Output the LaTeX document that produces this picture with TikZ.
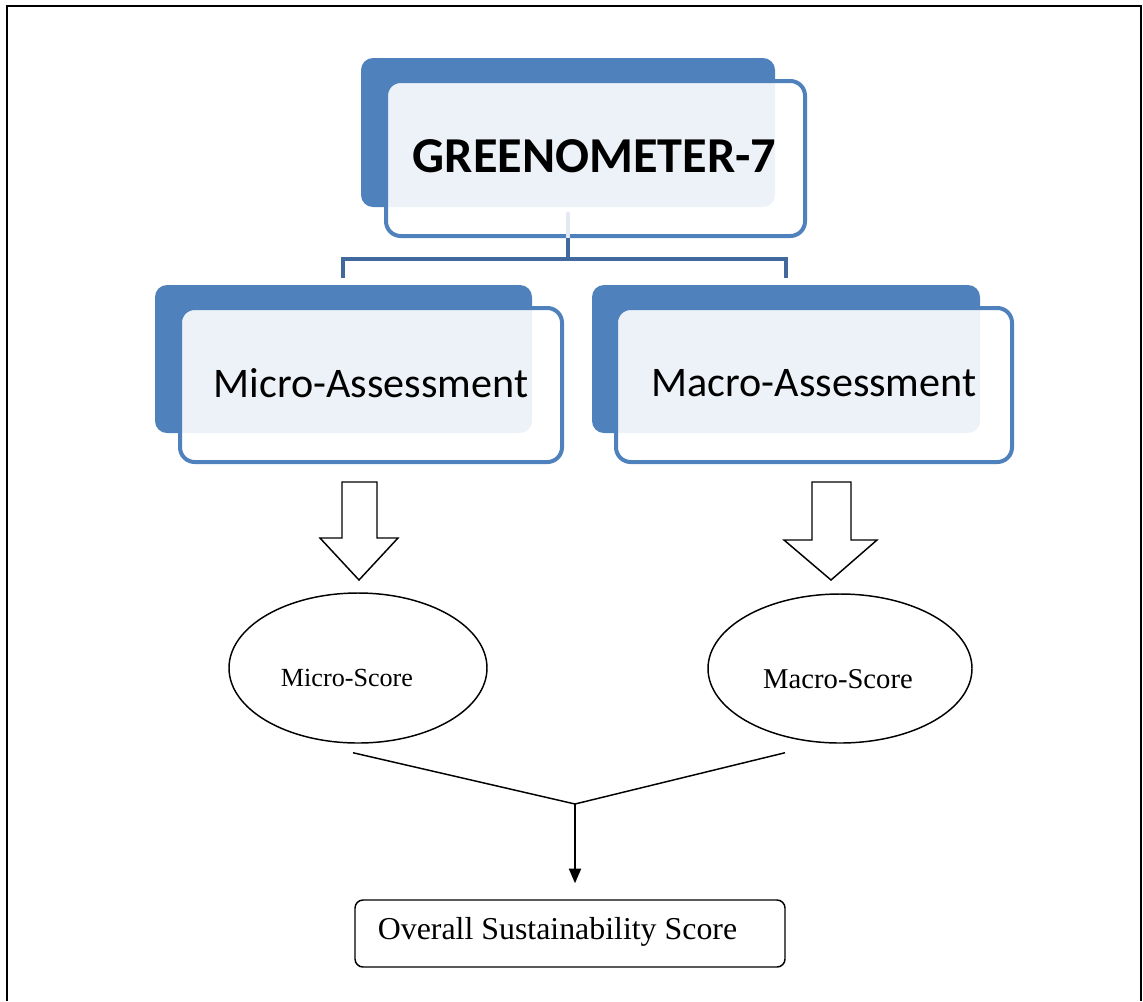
\documentclass[tikz,border=0pt]{standalone}
\usepackage{fontspec}
\setmainfont{Liberation Serif}
\newfontfamily\calibri{Carlito}
\usetikzlibrary{fit,calc,shapes.geometric,arrows.meta}
\definecolor{accent}{HTML}{4F81BD}
\definecolor{linkblue}{HTML}{41699D}
\definecolor{faintline}{HTML}{E4E9F1}

\begin{document}
\begin{tikzpicture}[x=0.75pt,y=-0.75pt,
  backbox/.style={fill=accent, draw=none, rounded corners=9pt, inner sep=0pt},
  frontbox/.style={draw=accent, line width=3pt, fill=white, fill opacity=0.9,
    rounded corners=11pt, inner sep=0pt},
  titletext/.style={font=\calibri\bfseries\fontsize{37.7}{40}\selectfont, inner sep=0pt},
  parttext/.style={font=\calibri\fontsize{31.6}{34}\selectfont, inner sep=0pt},
  link/.style={draw=linkblue, line width=3pt},
  faint/.style={draw=faintline, line width=2.5pt},
  blockarrow/.style={draw=black, line width=1.1pt, fill=white, line join=miter},
  score/.style={ellipse, draw=black, line width=1.1pt, inner sep=0pt},
  plain/.style={draw=black, line width=1.1pt},
  resultbox/.style={draw=black, line width=1.1pt, rounded corners=6pt, inner sep=0pt},
]
\useasboundingbox (0,0) rectangle (1143,1001);

% page frame (open at the bottom)
\draw[line width=1.4pt] (7,1001) -- (7,6) -- (1141,6) -- (1141,1001);

% top-level box
\node[backbox, fit={(361,58) (775,207)}] (gback) {};
\node[frontbox, fit={(386,81) (805,236)}] (gfront) {};
\node[titletext] (gtitle) at (594.5,156) {GREENOMETER-7};
\draw[faint] ($(gback.south)+(0,5)$) -- (gback.south |- gfront.south);

% the two assessment boxes
\node[backbox, fit={(155,285) (532,433)}] (miback) {};
\node[frontbox, fit={(180,308) (562,462)}] (mifront) {};
\node[parttext] (mititle) at (371,383.5) {Micro-Assessment};
\node[backbox, fit={(592,285) (980,433)}] (maback) {};
\node[frontbox, fit={(616,308) (1012,462)}] (mafront) {};
\node[parttext] (matitle) at (814,383.5) {Macro-Assessment};

% branching connector
\coordinate (split) at ($(gback.south |- gfront.south)+(0,21)$);
\draw[link] (gback.south |- gfront.south) -- (split);
\draw[link] ($(miback.north)+(-1,-7)$) |- (split) -| ($(maback.north)+(0,-7)$);

% block arrows down to the scores
\draw[blockarrow] (342,482) -- (377,482) -- (377,538) -- (398,538) -- (359,580)
  -- (320,538) -- (342,538) -- cycle;
\draw[blockarrow] (812,482) -- (851,482) -- (851,540) -- (877,540) -- (831,580)
  -- (784,540) -- (812,540) -- cycle;

% score ellipses
\node[score, minimum width=193.5pt, minimum height=112.5pt] (mis) at (358,668) {};
\node[font=\fontsize{19.6}{22}\selectfont] (mist) at (347,678) {Micro-Score};
\node[score, minimum width=198pt, minimum height=111.75pt] (mas) at (840,668.5) {};
\node[font=\fontsize{21.5}{24}\selectfont] (mast) at (838,679) {Macro-Score};

% overall result
\node[resultbox, fit={(355,900) (785,967)}] (overall) {};
\node[font=\fontsize{23.9}{26}\selectfont] (overallt) at (557.5,932) {Overall Sustainability Score};

% merging lines and arrow
\coordinate (merge) at (575,804);
\draw[plain] ($(mis.south)+(-5,9)$) -- (merge) -- ($(mas.south)+(-55,9)$);
\draw[line width=1.5pt, -{Triangle[length=11pt,width=9pt]}] (merge) -- ($(merge |- overall.north)+(0,-16)$);
\end{tikzpicture}
\end{document}
